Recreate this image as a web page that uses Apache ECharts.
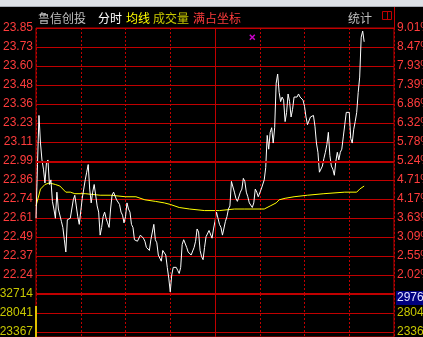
<!DOCTYPE html>
<html>
<head>
<meta charset="utf-8">
<script src="https://cdn.jsdelivr.net/npm/echarts@6/dist/echarts.min.js"></script>
<style>
html,body{margin:0;padding:0;background:#000;overflow:hidden;}
#chart{width:460px;height:337px;}
</style>
</head>
<body>
<div id="chart"></div>
<script>
// 鲁信创投 intraday: one price per minute from 9:30
const prices = [
  22.61, 22.96, 23.28, 23.10, 22.99, 22.93, 22.84, 22.97, 22.99, 22.83,
  22.86, 22.72, 22.67, 22.61, 22.78, 22.67, 22.67, 22.59, 22.55, 22.47,
  22.39, 22.60, 22.60, 22.61, 22.67, 22.73, 22.76, 22.69, 22.62, 22.57,
  22.57, 22.74, 22.80, 22.86, 22.91, 22.96, 22.80, 22.71, 22.78, 22.83,
  22.83, 22.69, 22.65, 22.50, 22.55, 22.62, 22.65, 22.61, 22.58, 22.55,
  22.67, 22.76, 22.78, 22.78, 22.73, 22.73, 22.70, 22.65, 22.63, 22.58,
  22.62, 22.71, 22.67, 22.65, 22.57, 22.55, 22.47, 22.46, 22.46, 22.47,
  22.50, 22.51, 22.48, 22.46, 22.42, 22.41, 22.40, 22.47, 22.52, 22.57,
  22.47, 22.45, 22.37, 22.36, 22.33, 22.40, 22.40, 22.37, 22.29, 22.22,
  22.13, 22.24, 22.29, 22.29, 22.29, 22.27, 22.25, 22.29, 22.44, 22.47,
  22.48, 22.42, 22.39, 22.39, 22.37, 22.36, 22.42, 22.46, 22.54, 22.52,
  22.40, 22.36, 22.34, 22.42, 22.49, 22.49, 22.53, 22.52, 22.48, 22.54,
  22.59, 22.65, 22.61, 22.57, 22.55, 22.50, 22.50, 22.59, 22.62, 22.67,
  22.69, 22.85, 22.84, 22.78, 22.74, 22.72, 22.73, 22.78, 22.80, 22.87,
  22.85, 22.78, 22.75, 22.71, 22.70, 22.68, 22.71, 22.80, 22.78, 22.75,
  22.76, 22.80, 22.81, 22.86, 22.94, 23.15, 23.06, 23.17, 23.20, 23.10,
  23.20, 23.49, 23.55, 23.43, 23.37, 23.40, 23.38, 23.24, 23.30, 23.42,
  23.37, 23.27, 23.32, 23.40, 23.40, 23.40, 23.42, 23.40, 23.40, 23.38,
  23.34, 23.27, 23.22, 23.22, 23.27, 23.27, 23.28, 23.21, 23.10, 23.04,
  22.91, 22.91, 22.95, 23.00, 23.04, 23.09, 23.17, 23.02, 22.95, 22.93,
  22.89, 22.98, 23.04, 22.99, 23.04, 23.06, 23.14, 23.22, 23.30, 23.30,
  23.30, 23.13, 23.10, 23.19, 23.24, 23.30, 23.43, 23.53, 23.79, 23.83,
  23.76
];

// average-price line (均线), minute / price
const avgMinutes = [0, 3, 6, 9, 13, 16, 20, 23, 26, 33, 43, 50, 60, 67, 73, 80, 86, 90, 96, 103,
  113, 123, 133, 140, 153, 157, 161, 163, 167, 173, 182, 193, 207, 215, 217, 220];
const avgPrices = [22.69, 22.80, 22.83, 22.84, 22.83, 22.82, 22.78, 22.78, 22.77, 22.77,
  22.76, 22.76, 22.75, 22.75, 22.73, 22.72, 22.71, 22.70, 22.68, 22.67,
  22.66, 22.66, 22.67, 22.67, 22.67, 22.69, 22.71, 22.73, 22.74, 22.75,
  22.76, 22.77, 22.78, 22.78, 22.80, 22.82];

// 成交量 per minute
const volumes = [29762];

// info marker (信息地雷)
const noteMinutes = [145];
const notePrices = [23.79];

// axis tick labels, top to bottom
const priceLabels = ['23.85', '23.73', '23.60', '23.48', '23.36', '23.23', '23.11',
  '22.99', '22.86', '22.74', '22.61', '22.49', '22.37', '22.24'];
const pctLabels = ['9.01%', '8.47%', '7.93%', '7.39%', '6.86%', '6.32%', '5.78%',
  '5.24%', '4.71%', '4.17%', '3.63%', '3.09%', '2.55%', '2.02%'];
const volLabels = ['32714', '28041', '23367', '18694', '14020', '9347', '4673'];

const RED = '#c00000';
const LABEL_RED = '#ff3c3c';
const VOL_YELLOW = '#c8c800';
const NUM_FONT = '"Liberation Sans", Arial, sans-serif';
const CJK_FONT = '"Noto Sans CJK SC", sans-serif';

// the canvas is a little wider than the window so the right-hand labels run off its edge
const CANVAS_W = 460;
const PLOT_L = 36, PLOT_R = 394, PLOT_T = 28;
const ROW_PX = 19;                             // height of one grid row
const rows = priceLabels.length;               // 14 rows in the price pane
const priceMax = parseFloat(priceLabels[0]);
const priceLow = parseFloat(priceLabels[rows - 1]);
const priceStep = (priceMax - priceLow) / (rows - 1);
const priceMin = priceLow - priceStep;

const volTop = PLOT_T + rows * ROW_PX;         // volume pane starts under the price pane
const volPaneRows = (337 - volTop) / ROW_PX;   // rows that fit in the window
const volMax = parseFloat(volLabels[0]);
const volStep = volMax / volLabels.length;
const volMin = volMax - volPaneRows * volStep;

const chart = echarts.init(document.getElementById('chart'), null, { renderer: 'canvas' });

function timeAxis(gridIndex) {
  return {
    type: 'value', gridIndex: gridIndex, min: 0, max: 240, interval: 30,
    axisLine: { show: false }, axisTick: { show: false }, axisLabel: { show: false },
    splitLine: { show: true, lineStyle: { color: RED, width: 1, type: [2, 2] } }
  };
}

const labelBase = { fontSize: 12, fontFamily: NUM_FONT, margin: 3 };
const onTick = v => Math.abs(v - Math.round(v)) < 1e-6;

function volRuleAxis(position, withLines, skipTop) {
  return {
    type: 'value', gridIndex: 1, position: position, inverse: true,
    min: 0, max: volPaneRows, interval: 1,
    axisLine: { show: false }, axisTick: { show: false },
    axisLabel: Object.assign({}, labelBase, {
      color: VOL_YELLOW,
      formatter: v => {
        if (!onTick(v)) return '';
        const i = Math.round(v);
        if (skipTop && i === 0) return '';
        return volLabels[i] || '';
      }
    }),
    splitLine: { show: withLines, lineStyle: { color: RED, width: 1 } }
  };
}

const gridBase = {
  left: PLOT_L, width: PLOT_R - PLOT_L, show: true, borderColor: RED, borderWidth: 1,
  backgroundColor: 'transparent', containLabel: false, outerBoundsMode: 'none'
};

chart.setOption({
  backgroundColor: '#000000',
  animation: false,
  grid: [
    Object.assign({}, gridBase, { top: PLOT_T, height: rows * ROW_PX }),
    Object.assign({}, gridBase, { top: volTop, bottom: 0 })
  ],
  xAxis: [timeAxis(0), timeAxis(1)],
  yAxis: [
    { // left price labels + horizontal rules
      type: 'value', gridIndex: 0, position: 'left', min: 0, max: rows, interval: 1,
      axisLine: { show: false }, axisTick: { show: false },
      axisLabel: Object.assign({}, labelBase, {
        color: LABEL_RED,
        formatter: v => { const i = rows - Math.round(v); return i < rows ? priceLabels[i] : ''; }
      }),
      splitLine: { show: true, lineStyle: { color: RED, width: 1 } }
    },
    { // right percentage labels
      type: 'value', gridIndex: 0, position: 'right', min: 0, max: rows, interval: 1,
      axisLine: { show: false }, axisTick: { show: false },
      axisLabel: Object.assign({}, labelBase, {
        color: LABEL_RED,
        formatter: v => { const i = rows - Math.round(v); return i < rows ? pctLabels[i] : ''; }
      }),
      splitLine: { show: false }
    },
    { // price scale
      type: 'value', gridIndex: 0, min: priceMin, max: priceMax, show: false,
      splitLine: { show: false }
    },
    volRuleAxis('left', true, false),
    volRuleAxis('right', false, true),
    { // volume scale
      type: 'value', gridIndex: 1, min: volMin, max: volMax, show: false,
      splitLine: { show: false }
    }
  ],
  series: [
    {
      name: '均线', type: 'line', xAxisIndex: 0, yAxisIndex: 2,
      data: avgMinutes.map((m, i) => [m, avgPrices[i]]),
      showSymbol: false, lineStyle: { color: '#ffff00', width: 1 }, z: 3
    },
    {
      name: '分时', type: 'line', xAxisIndex: 0, yAxisIndex: 2,
      data: prices.map((p, i) => [i, p]),
      showSymbol: false, lineStyle: { color: '#ffffff', width: 1 }, z: 4,
      markLine: {
        silent: true, symbol: 'none', label: { show: false },
        data: [
          { yAxis: priceMin + 7 * priceStep, lineStyle: { color: RED, width: 2, type: 'solid' } },
          { yAxis: priceMin, lineStyle: { color: RED, width: 2, type: 'solid' } },
          { xAxis: 120, lineStyle: { color: RED, width: 1, type: 'solid' } }
        ]
      }
    },
    {
      name: '信息', type: 'scatter', xAxisIndex: 0, yAxisIndex: 2,
      data: noteMinutes.map((m, i) => [m, notePrices[i]]),
      symbol: 'path://M0,0L10,10M10,0L0,10', symbolSize: 5,
      itemStyle: { color: 'transparent', borderColor: '#ff00ff', borderWidth: 1.5 }, z: 5
    },
    {
      name: '成交量', type: 'bar', xAxisIndex: 1, yAxisIndex: 5,
      data: volumes.map((v, i) => [i, v]),
      barWidth: 2, itemStyle: { color: '#e0c000' },
      markLine: {
        silent: true, symbol: 'none', label: { show: false },
        data: [{ xAxis: 120, lineStyle: { color: RED, width: 1, type: 'solid' } }]
      }
    }
  ],
  graphic: [
    { type: 'rect', z: 100, shape: { x: 0, y: 0, width: CANVAS_W, height: 7 }, style: { fill: '#dde1e6' } },
    { type: 'line', z: 100, shape: { x1: 0, y1: 6.5, x2: CANVAS_W, y2: 6.5 }, style: { stroke: '#a8aeb6', lineWidth: 1 } },
    { type: 'line', z: 100, shape: { x1: PLOT_R + 0.5, y1: 7, x2: PLOT_R + 0.5, y2: PLOT_T }, style: { stroke: RED, lineWidth: 1 } },
    { type: 'text', z: 100, x: 38, y: 18.5, style: { text: '鲁信创投', fill: '#c0c0c0', fontSize: 12, fontFamily: CJK_FONT, verticalAlign: 'middle' } },
    { type: 'text', z: 100, x: 98, y: 18.5, style: { text: '分时', fill: '#ffffff', fontSize: 12, fontFamily: CJK_FONT, verticalAlign: 'middle' } },
    { type: 'text', z: 100, x: 126, y: 18.5, style: { text: '均线', fill: '#ffff00', fontSize: 12, fontFamily: CJK_FONT, verticalAlign: 'middle' } },
    { type: 'text', z: 100, x: 153, y: 18.5, style: { text: '成交量', fill: '#c8c800', fontSize: 12, fontFamily: CJK_FONT, verticalAlign: 'middle' } },
    { type: 'text', z: 100, x: 193, y: 18.5, style: { text: '满占坐标', fill: LABEL_RED, fontSize: 12, fontFamily: CJK_FONT, verticalAlign: 'middle' } },
    { type: 'text', z: 100, x: 348, y: 18.5, style: { text: '统计', fill: '#c0c0c0', fontSize: 12, fontFamily: CJK_FONT, verticalAlign: 'middle' } },
    { type: 'rect', z: 100, shape: { x: 382.5, y: 11.5, width: 9, height: 8 }, style: { fill: 'none', stroke: RED, lineWidth: 1 } },
    { type: 'line', z: 100, shape: { x1: 387.5, y1: 11.5, x2: 387.5, y2: 19.5 }, style: { stroke: RED, lineWidth: 1 } },
    { type: 'rect', z: 100, shape: { x: PLOT_R + 2, y: 291, width: CANVAS_W - PLOT_R - 2, height: 14 }, style: { fill: '#000080' } },
    { type: 'text', z: 101, x: PLOT_R + 3, y: 298, style: { text: String(volumes[0]), fill: '#e0e0ff', fontSize: 12, fontFamily: NUM_FONT, verticalAlign: 'middle' } }
  ]
});
</script>
</body>
</html>
